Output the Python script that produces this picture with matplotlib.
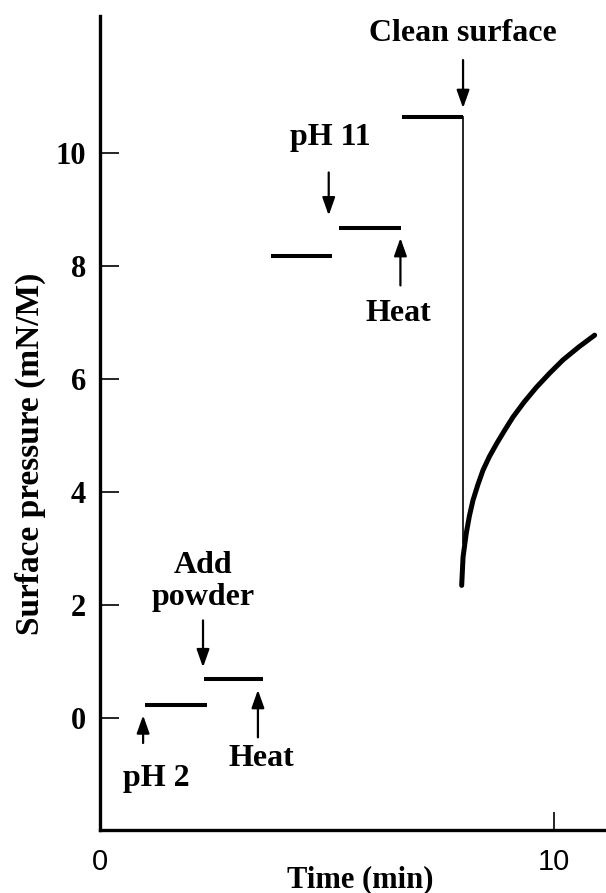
import matplotlib
matplotlib.use("Agg")
import matplotlib.pyplot as plt

# --- data ---
seg_start = [1.0, 2.3, 3.77, 5.26, 6.65]
seg_end = [2.36, 3.59, 5.11, 6.63, 8.0]
seg_level = [0.23, 0.69, 8.19, 8.67, 10.64]

drop_x = 8.0
drop_top = 10.64
drop_bottom = 3.1

curve_t = [7.97, 8.0, 8.07, 8.14, 8.22, 8.33, 8.44, 8.58, 8.74, 8.92, 9.10, 9.35, 9.62, 9.90, 10.2, 10.55, 10.9]
curve_p = [2.35, 2.85, 3.27, 3.58, 3.86, 4.14, 4.39, 4.63, 4.86, 5.1, 5.33, 5.6, 5.86, 6.1, 6.34, 6.57, 6.78]

# annotations: label, arrow x, tail y, tip y, text x, text y
ann_labels = ["pH 2", "Add\npowder", "Heat", "pH 11", "Heat", "Clean surface"]
ann_x = [0.95, 2.27, 3.48, 5.04, 6.62, 8.0]
ann_tail = [-0.44, 1.73, -0.34, 9.66, 7.66, 11.65]
ann_tip = [0.05, 0.9, 0.5, 8.9, 8.5, 10.8]
ann_tx = [1.23, 2.27, 3.55, 5.07, 6.57, 8.0]
ann_ty = [-1.06, 2.42, -0.71, 10.28, 7.17, 12.12]

xticks = [0, 10]
yticks = [0, 2, 4, 6, 8, 10]

serif = ["Liberation Serif", "DejaVu Serif"]
sans = ["Liberation Sans", "DejaVu Sans"]

W, H = 606, 893
fig = plt.figure(figsize=(W / 100, H / 100), dpi=100)
ax = fig.add_axes([100 / W, 1 - 830 / H, 1 - 100 / W, (830 - 16) / H])
ax.set_xlim(0, 11.15)
ax.set_ylim(-1.98, 12.43)

for s, e, l in zip(seg_start, seg_end, seg_level):
    ax.plot([s, e], [l, l], color="black", lw=2.9, solid_capstyle="butt")
ax.plot([drop_x, drop_x], [drop_top, drop_bottom], color="black", lw=1.2)
ax.plot(curve_t, curve_p, color="black", lw=3.6, solid_capstyle="round")

for lab, x, t0, t1, tx, ty in zip(ann_labels, ann_x, ann_tail, ann_tip, ann_tx, ann_ty):
    ax.annotate("", xy=(x, t1), xytext=(x, t0),
                arrowprops=dict(arrowstyle="-|>,head_length=0.45,head_width=0.16",
                                color="black", lw=1.6,
                                mutation_scale=24, shrinkA=0, shrinkB=0))
    ax.text(tx, ty, lab, ha="center", va="center", fontsize=23,
            fontweight="bold", family=serif, linespacing=1.1)

for side in ["top", "right"]:
    ax.spines[side].set_visible(False)
for side in ["left", "bottom"]:
    ax.spines[side].set_linewidth(2.4)

ax.set_yticks(yticks)
ax.set_yticklabels([str(v) for v in yticks], fontsize=22, fontweight="bold", family=serif)
ax.tick_params(axis="y", direction="in", length=14, width=1.2, pad=10)
ax.set_xticks(xticks)
ax.set_xticklabels([str(v) for v in xticks], fontsize=21, family=sans)
ax.tick_params(axis="x", direction="in", length=13, width=1.2, pad=13)

fig.text(360 / W, 1 - 880 / H, "Time (min)", ha="center", va="center",
         fontsize=22, fontweight="bold", family=serif)
fig.text(30 / W, 1 - 454 / H, "Surface pressure (mN/M)", ha="center", va="center",
         rotation=90, fontsize=24, fontweight="bold", family=serif)

fig.savefig("out.png", dpi=100)
